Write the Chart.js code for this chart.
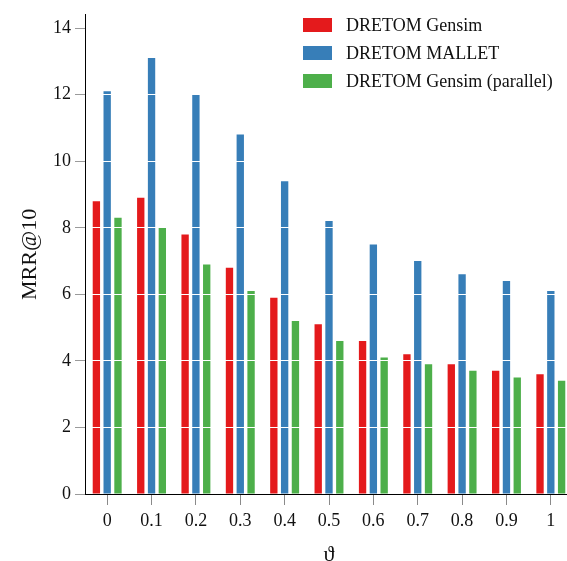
<!DOCTYPE html>
<html>
<head>
<meta charset="utf-8">
<script src="https://cdn.jsdelivr.net/npm/chart.js@4/dist/chart.umd.min.js"></script>
<style>
  html, body { margin: 0; padding: 0; overflow: hidden; background: #fff; }
  #wrap { position: relative; width: 573px; height: 580px; }
  #legend { position: absolute; left: 303px; top: 11px; font-family: "Liberation Serif", serif; font-size: 18px; color: #111; }
  .item { display: flex; align-items: center; height: 28px; }
  .box { width: 29px; height: 14px; margin-right: 14px; }
</style>
</head>
<body>
<div id="wrap">
  <canvas id="chart"></canvas>
  <div id="legend"></div>
</div>
<script>
// x categories (theta) and MRR@10 values per method
const thetaLabels = ['0', '0.1', '0.2', '0.3', '0.4', '0.5', '0.6', '0.7', '0.8', '0.9', '1'];
const gensimValues = [8.8, 8.9, 7.8, 6.8, 5.9, 5.1, 4.6, 4.2, 3.9, 3.7, 3.6];
const malletValues = [12.1, 13.1, 12.0, 10.8, 9.4, 8.2, 7.5, 7.0, 6.6, 6.4, 6.1];
const parallelValues = [8.3, 8.0, 6.9, 6.1, 5.2, 4.6, 4.1, 3.9, 3.7, 3.5, 3.4];

const serif = '"Liberation Serif", "DejaVu Serif", serif';
const ctx = document.getElementById('chart').getContext('2d');

const chart = new Chart(ctx, {
    type: 'bar',
    data: {
        labels: thetaLabels,
        datasets: [
            { label: 'DRETOM Gensim', data: gensimValues, backgroundColor: '#e41a1c' },
            { label: 'DRETOM MALLET', data: malletValues, backgroundColor: '#377eb8' },
            { label: 'DRETOM Gensim (parallel)', data: parallelValues, backgroundColor: '#4daf4a' },
        ],
    },
    options: {
        responsive: true,
        maintainAspectRatio: false,
        animation: false,
        categoryPercentage: 0.73,
        barPercentage: 0.68,
        layout: { padding: { top: 8, left: 0, right: 0, bottom: 0 } },
        plugins: {
            legend: { display: false },
            tooltip: { enabled: false },
        },
        scales: {
            x: {
                // category ticks sit in the middle of each group
                grid: {
                    offset: false,
                    drawOnChartArea: false,
                    color: '#8a8a8a',
                    tickColor: '#8a8a8a',
                    lineWidth: 1,
                    tickLength: 11,
                },
                border: { color: '#000', width: 1 },
                ticks: { color: '#111', padding: 5, font: { family: serif, size: 18 } },
                title: { display: true, text: 'ϑ', color: '#111', padding: { top: 4, bottom: 12 }, font: { family: serif, size: 22 } },
                afterFit: (scale) => { scale.height = 580 - 494; },
            },
            y: {
                min: 0,
                max: 14.4,
                grid: {
                    z: 1,
                    color: (c) => (c.tick && c.tick.value === 0 ? 'rgba(0,0,0,0)' : '#ffffff'),
                    tickColor: '#9a9a9a',
                    tickLength: 10,
                    lineWidth: 1,
                },
                border: { color: '#000', width: 1, z: 2 },
                ticks: { stepSize: 2, includeBounds: false, color: '#111', padding: 4, font: { family: serif, size: 18 } },
                title: { display: true, text: 'MRR@10', color: '#111', padding: { top: 17 }, font: { family: serif, size: 22 } },
                afterFit: (scale) => { scale.width = 85; },
            },
        },
    },
});

// Build legend from datasets
const legendEl = document.getElementById('legend');
chart.data.datasets.forEach((ds) => {
    const item = document.createElement('div');
    item.className = 'item';
    const box = document.createElement('span');
    box.className = 'box';
    box.style.background = ds.backgroundColor;
    const text = document.createElement('span');
    text.textContent = ds.label;
    item.appendChild(box);
    item.appendChild(text);
    legendEl.appendChild(item);
});
</script>
</body>
</html>
